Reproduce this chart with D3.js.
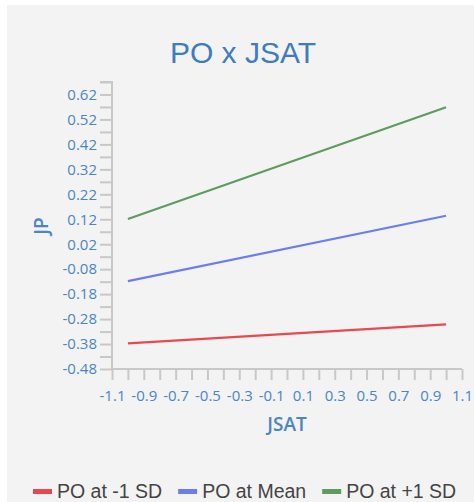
<!DOCTYPE html>
<html>
<head>
<meta charset="utf-8">
<script src="https://cdn.jsdelivr.net/npm/d3@7/dist/d3.min.js"></script>
<style>
  html, body { margin: 0; padding: 0; background: #fff; }
  svg { display: block; font-family: "Liberation Sans", Arial, sans-serif; }
</style>
</head>
<body>
<svg id="chart" width="474" height="502"></svg>
<script>
// ---- data ----
const xValues = [-1, 1];
const seriesNames = ["PO at -1 SD", "PO at Mean", "PO at +1 SD"];
const seriesColors = ["#e8484e", "#6a7ef0", "#5f9b5f"];
const lowValues = [-0.377, -0.301];
const meanValues = [-0.128, 0.134];
const highValues = [0.121, 0.569];
const yTickLabels = ["-0.48","-0.38","-0.28","-0.18","-0.08","0.02","0.12","0.22","0.32","0.42","0.52","0.62"];
const xTickLabels = ["-1.1","-0.9","-0.7","-0.5","-0.3","-0.1","0.1","0.3","0.5","0.7","0.9","1.1"];
const titleText = "PO x JSAT";
const xTitle = "JSAT";
const yTitle = "JP";

const series = [lowValues, meanValues, highValues].map((vals, i) => ({
  name: seriesNames[i], color: seriesColors[i],
  points: xValues.map((x, j) => ({ x, y: vals[j] }))
}));

// ---- layout ----
const W = 474, H = 502;
const svg = d3.select("#chart");
svg.append("rect").attr("x", 7).attr("y", 5).attr("width", W - 7).attr("height", H - 5).attr("fill", "#f3f3f3");

const yMajor = yTickLabels.map(Number);
const yStep = 0.05;
const yMin = yMajor[0], yMax = yMajor[yMajor.length - 1] + yStep;
const xMajor = xTickLabels.map(Number);
const xMin = xMajor[0], xMax = xMajor[xMajor.length - 1];

const x = d3.scaleLinear().domain([xMin, xMax]).range([112, 462]);
const y = d3.scaleLinear().domain([yMin, yMax]).range([369, 82]);

const yAll = d3.range(0, Math.round((yMax - yMin) / yStep) + 1).map(i => +(yMin + i * yStep).toFixed(2));
const xAll = d3.range(0, Math.round((xMax - xMin) / 0.1) + 1).map(i => +(xMin + i * 0.1).toFixed(1));

const labelColor = "#4a86c2";
const axisColor = "#c8c8c8";
const tickFont = "'Open Sans', 'Liberation Sans', Arial, sans-serif";

// y axis
const yAxis = d3.axisLeft(y).tickValues(yAll).tickSize(12).tickPadding(3)
  .tickFormat(v => { const k = yMajor.findIndex(m => Math.abs(m - v) < 1e-6); return k >= 0 ? yTickLabels[k] : ""; });
const gy = svg.append("g").attr("transform", "translate(112,0)").call(yAxis);
gy.select(".domain").attr("stroke", axisColor).attr("stroke-width", 2).attr("d", `M-12,${y(yMax)}H0V${y(yMin)}`);
gy.selectAll(".tick line").attr("stroke", axisColor).attr("stroke-width", 2);
gy.selectAll(".tick text").attr("fill", labelColor).style("font-size", "15px").style("font-family", tickFont);

// x axis
const xAxis = d3.axisBottom(x).tickValues(xAll).tickSize(11).tickPadding(10)
  .tickFormat(v => { const k = xMajor.findIndex(m => Math.abs(m - v) < 1e-6); return k >= 0 ? xTickLabels[k] : ""; });
const gx = svg.append("g").attr("transform", "translate(0,369)").call(xAxis);
gx.select(".domain").attr("stroke", axisColor).attr("stroke-width", 2).attr("d", `M${x(xMin)},0H${x(xMax)}`);
gx.selectAll(".tick line").attr("stroke", axisColor).attr("stroke-width", 2);
gx.selectAll(".tick text").attr("fill", labelColor).style("font-size", "15px").style("font-family", tickFont);

// lines
const line = d3.line().x(d => x(d.x)).y(d => y(d.y));
svg.append("g").selectAll("path").data(series).join("path")
  .attr("d", d => line(d.points)).attr("fill", "none")
  .attr("stroke", d => d.color).attr("stroke-width", 2.2);

// titles
svg.append("text").attr("x", 243).attr("y", 63).attr("text-anchor", "middle")
  .attr("fill", "#3d7dbd").style("font-size", "30px").text(titleText);
svg.append("text").attr("x", 287).attr("y", 431).attr("text-anchor", "middle")
  .attr("fill", labelColor).style("font-size", "19px").style("font-weight", "600").style("font-family", tickFont).text(xTitle);
svg.append("text").attr("transform", "translate(48,226) rotate(-90)").attr("text-anchor", "middle")
  .attr("fill", labelColor).style("font-size", "19px").style("font-weight", "600").style("font-family", tickFont).text(yTitle);

// legend
const lg = svg.append("g");
let cx = 33;
series.forEach(s => {
  lg.append("rect").attr("x", cx).attr("y", 489).attr("width", 19).attr("height", 5).attr("fill", s.color);
  const t = lg.append("text").attr("x", cx + 24).attr("y", 497.5).attr("fill", "#444")
    .style("font-size", "19.5px").text(s.name);
  cx += 24 + t.node().getComputedTextLength() + 16;
});
</script>
</body>
</html>
